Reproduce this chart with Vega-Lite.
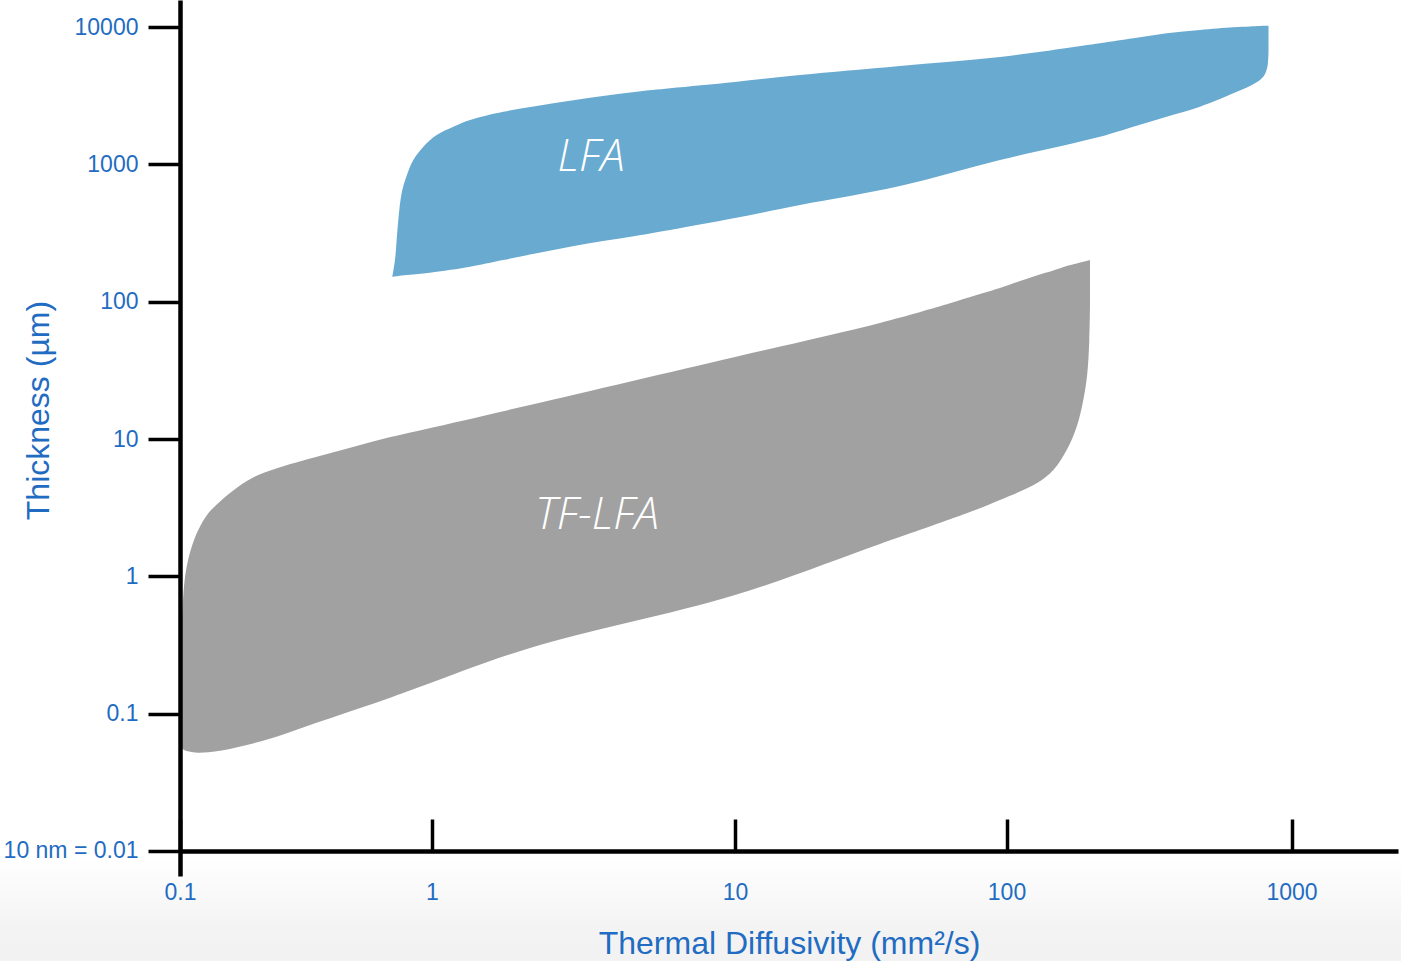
{
  "$schema": "https://vega.github.io/schema/vega-lite/v6.json",
  "width": 1218,
  "height": 876,
  "autosize": {"type": "none"},
  "padding": {"left": 180, "top": 0, "right": 3, "bottom": 85},
  "background": "white",
  "config": {
    "view": {"stroke": null},
    "axis": {
      "grid": false,
      "domainColor": "black",
      "domainWidth": 4.5,
      "tickColor": "black",
      "tickWidth": 3.5,
      "labelFont": "Liberation Sans",
      "labelFontSize": 23,
      "labelColor": "#1f6cc2",
      "labelFlush": false,
      "labelOverlap": false,
      "labelBound": false,
      "titleFont": "Liberation Sans",
      "titleFontSize": 32,
      "titleFontWeight": "normal",
      "titleColor": "#1f6cc2",
      "zindex": 1
    }
  },
  "datasets": {
    "regions": [
      {"region": "LFA", "d": 0.696, "lo": 152.3, "hi": 152.3},
      {"region": "LFA", "d": 0.713, "lo": 152.9, "hi": 201.6},
      {"region": "LFA", "d": 0.724, "lo": 153.4, "hi": 281.9},
      {"region": "LFA", "d": 0.735, "lo": 154.1, "hi": 394.2},
      {"region": "LFA", "d": 0.758, "lo": 155.4, "hi": 620},
      {"region": "LFA", "d": 0.794, "lo": 156.8, "hi": 830},
      {"region": "LFA", "d": 0.843, "lo": 158.1, "hi": 1079},
      {"region": "LFA", "d": 0.924, "lo": 160.8, "hi": 1348},
      {"region": "LFA", "d": 1.036, "lo": 165.7, "hi": 1640},
      {"region": "LFA", "d": 1.176, "lo": 171.9, "hi": 1885},
      {"region": "LFA", "d": 1.335, "lo": 180.1, "hi": 2110},
      {"region": "LFA", "d": 1.719, "lo": 201.6, "hi": 2424},
      {"region": "LFA", "d": 2.216, "lo": 225.7, "hi": 2668},
      {"region": "LFA", "d": 2.854, "lo": 252, "hi": 2915},
      {"region": "LFA", "d": 3.667, "lo": 277.2, "hi": 3154},
      {"region": "LFA", "d": 4.738, "lo": 302.9, "hi": 3391},
      {"region": "LFA", "d": 6.104, "lo": 333.4, "hi": 3589},
      {"region": "LFA", "d": 10, "lo": 407.6, "hi": 3990},
      {"region": "LFA", "d": 17.35, "lo": 507, "hi": 4486},
      {"region": "LFA", "d": 40.5, "lo": 697.3, "hi": 5216},
      {"region": "LFA", "d": 94.6, "lo": 1079, "hi": 6067},
      {"region": "LFA", "d": 212.8, "lo": 1594, "hi": 7633},
      {"region": "LFA", "d": 278.5, "lo": 1885, "hi": 8300},
      {"region": "LFA", "d": 364.8, "lo": 2229, "hi": 9029},
      {"region": "LFA", "d": 477.4, "lo": 2636, "hi": 9541},
      {"region": "LFA", "d": 625, "lo": 3301, "hi": 9984},
      {"region": "LFA", "d": 715, "lo": 3729, "hi": 10118},
      {"region": "LFA", "d": 775.4, "lo": 4125, "hi": 10202},
      {"region": "LFA", "d": 807.2, "lo": 4561, "hi": 10237},
      {"region": "LFA", "d": 825, "lo": 5305, "hi": 10254},
      {"region": "LFA", "d": 830.5, "lo": 6822, "hi": 10254},
      {"region": "TF-LFA", "d": 0.1, "lo": 0.0592, "hi": 0.291},
      {"region": "TF-LFA", "d": 0.1021, "lo": 0.056, "hi": 0.5413},
      {"region": "TF-LFA", "d": 0.1037, "lo": 0.0544, "hi": 0.841},
      {"region": "TF-LFA", "d": 0.1063, "lo": 0.0535, "hi": 1.177},
      {"region": "TF-LFA", "d": 0.1113, "lo": 0.0526, "hi": 1.645},
      {"region": "TF-LFA", "d": 0.1182, "lo": 0.052, "hi": 2.178},
      {"region": "TF-LFA", "d": 0.1295, "lo": 0.0524, "hi": 2.881},
      {"region": "TF-LFA", "d": 0.1464, "lo": 0.054, "hi": 3.601},
      {"region": "TF-LFA", "d": 0.1703, "lo": 0.0572, "hi": 4.501},
      {"region": "TF-LFA", "d": 0.2045, "lo": 0.0622, "hi": 5.477},
      {"region": "TF-LFA", "d": 0.2533, "lo": 0.07, "hi": 6.295},
      {"region": "TF-LFA", "d": 0.3434, "lo": 0.0851, "hi": 7.369},
      {"region": "TF-LFA", "d": 0.4655, "lo": 0.1029, "hi": 8.57},
      {"region": "TF-LFA", "d": 0.6313, "lo": 0.1242, "hi": 9.966},
      {"region": "TF-LFA", "d": 0.938, "lo": 0.1618, "hi": 11.79},
      {"region": "TF-LFA", "d": 2.106, "lo": 0.301, "hi": 17.72},
      {"region": "TF-LFA", "d": 10, "lo": 0.732, "hi": 39.63},
      {"region": "TF-LFA", "d": 34.2, "lo": 1.722, "hi": 70.09},
      {"region": "TF-LFA", "d": 61.93, "lo": 2.605, "hi": 97.5},
      {"region": "TF-LFA", "d": 71.37, "lo": 2.881, "hi": 106.6},
      {"region": "TF-LFA", "d": 94.6, "lo": 3.601, "hi": 126.1},
      {"region": "TF-LFA", "d": 127.6, "lo": 4.765, "hi": 155.4},
      {"region": "TF-LFA", "d": 146, "lo": 5.955, "hi": 169},
      {"region": "TF-LFA", "d": 162.6, "lo": 8.329, "hi": 182.2},
      {"region": "TF-LFA", "d": 176.3, "lo": 12.31, "hi": 190.1},
      {"region": "TF-LFA", "d": 186, "lo": 19.27, "hi": 195.6},
      {"region": "TF-LFA", "d": 192.1, "lo": 30.16, "hi": 199.3},
      {"region": "TF-LFA", "d": 195.2, "lo": 52.7, "hi": 200.9},
      {"region": "TF-LFA", "d": 196.3, "lo": 92.1, "hi": 201.6}
    ],
    "names": [
      {"name": "LFA", "d": 3.348, "t": 1115},
      {"name": "TF-LFA", "d": 3.504, "t": 2.754}
    ]
  },
  "layer": [
    {
      "description": "soft grey fade behind the x-axis labels and title",
      "data": {"values": [{}]},
      "mark": {
        "type": "rect",
        "clip": false,
        "color": {
          "gradient": "linear",
          "x1": 0, "y1": 0, "x2": 0, "y2": 1,
          "stops": [
            {"offset": 0, "color": "#ffffff"},
            {"offset": 0.65, "color": "#f3f3f3"},
            {"offset": 1, "color": "#f2f2f2"}
          ]
        }
      },
      "encoding": {
        "x": {"datum": 0.001, "type": "quantitative"},
        "x2": {"datum": 100000},
        "y": {"datum": 0.0089, "type": "quantitative"},
        "y2": {"datum": 0.0014}
      }
    },
    {
      "data": {"name": "regions"},
      "mark": {"type": "area", "interpolate": "catmull-rom", "opacity": 1},
      "encoding": {
        "x": {
          "field": "d",
          "type": "quantitative",
          "scale": {
            "type": "log",
            "domain": [0.1, 1, 10, 100, 1000, 2364],
            "range": [0, 252, 555, 826.5, 1111.5, 1218],
            "nice": false
          },
          "axis": {
            "orient": "bottom",
            "zindex": 2,
            "offset": -25,
            "values": [0.1, 1, 10, 100, 1000],
            "labelExpr": "'' + datum.value",
            "tickSize": -32,
            "labelPadding": 80,
            "labelBaseline": "alphabetic",
            "title": "Thermal Diffusivity (mm²/s)",
            "titleY": 102,
            "titleBaseline": "alphabetic"
          }
        },
        "y": {
          "field": "lo",
          "type": "quantitative",
          "scale": {"type": "log", "domain": [0.006575, 15780], "nice": false},
          "axis": {
            "orient": "left",
            "zindex": 2,
            "values": [0.01, 0.1, 1, 10, 100, 1000, 10000],
            "labelExpr": "datum.value < 0.05 ? '10 nm = 0.01' : '' + datum.value",
            "tickSize": 32,
            "labelPadding": 10,
            "labelBaseline": "middle",
            "title": "Thickness (µm)",
            "titleX": -132,
            "titleY": 410,
            "titleAngle": -90,
            "titleAlign": "center",
            "titleBaseline": "alphabetic"
          }
        },
        "y2": {"field": "hi"},
        "color": {
          "field": "region",
          "type": "nominal",
          "scale": {"domain": ["LFA", "TF-LFA"], "range": ["#69aad0", "#a1a1a1"]},
          "legend": null
        }
      }
    },
    {
      "data": {"name": "names"},
      "mark": {
        "type": "text",
        "font": "Open Sans",
        "fontStyle": "italic",
        "fontWeight": 300,
        "fontSize": 44,
        "color": "white",
        "align": "center",
        "baseline": "middle"
      },
      "encoding": {
        "x": {"field": "d", "type": "quantitative"},
        "y": {"field": "t", "type": "quantitative"},
        "text": {"field": "name", "type": "nominal"}
      }
    }
  ]
}
